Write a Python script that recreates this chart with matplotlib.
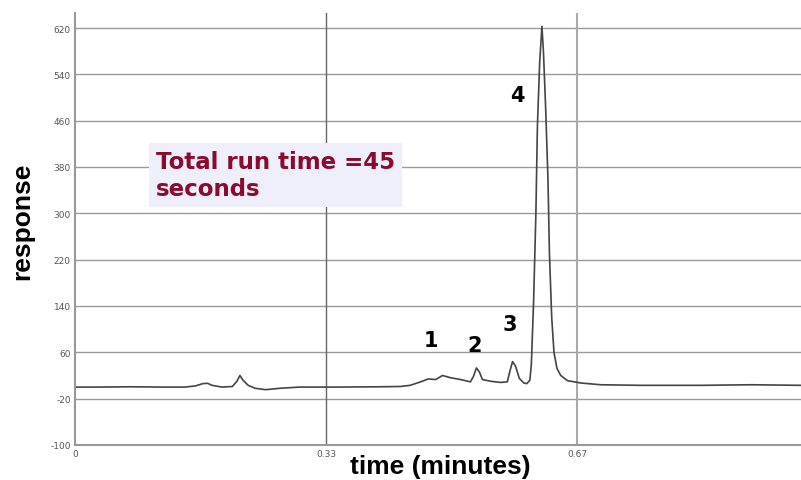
import matplotlib.pyplot as plt

# trace (time in minutes, detector response)
time_min = [0.000, 0.033, 0.073, 0.113, 0.146, 0.160, 0.170, 0.176, 0.182, 0.195,
            0.209, 0.215, 0.219, 0.223, 0.230, 0.239, 0.253, 0.273, 0.299, 0.352,
            0.406, 0.432, 0.445, 0.459, 0.469, 0.479, 0.488, 0.499, 0.512, 0.525,
            0.529, 0.533, 0.537, 0.541, 0.552, 0.565, 0.574, 0.578, 0.581, 0.585,
            0.590, 0.596, 0.600, 0.604, 0.606, 0.609, 0.612, 0.614, 0.617, 0.620,
            0.622, 0.625, 0.628, 0.630, 0.633, 0.636, 0.640, 0.645, 0.654, 0.672,
            0.698, 0.751, 0.831, 0.898, 0.964]
response = [0, 0, 0.5, 0, 0, 2, 6, 6.5, 3, 0,
            1, 10, 20, 12, 3, -2, -4.5, -2, 0, 0,
            0.5, 1, 3, 9, 14, 13, 20, 16, 13, 9,
            18, 33, 26, 13, 10, 8, 9, 30, 44, 36,
            15, 7, 6, 12, 40, 150, 300, 450, 560, 623,
            580, 480, 360, 230, 120, 60, 32, 20, 11, 7,
            4, 3, 3, 4, 3]

peak_labels = ["1", "2", "3", "4"]
peak_x = [0.472, 0.531, 0.577, 0.588]
peak_y = [82, 73, 109, 505]

yticks = [-100, -20, 60, 140, 220, 300, 380, 460, 540, 620]
xticks = [0, 1/3, 2/3]
xtick_labels = ["0", "0.33", "0.67"]

fig = plt.figure(figsize=(8.01, 4.81), dpi=100)
ax = fig.add_axes([0.0936, 0.0728, 0.9064, 0.8982])

ax.plot(time_min, response, color="#444444", lw=1.2)

ax.set_xlim(0, 0.964)
ax.set_ylim(-100, 646)
ax.set_yticks(yticks)
ax.set_yticklabels([str(v) for v in yticks], fontsize=6.5, color="#555555")
ax.set_xticks(xticks)
ax.set_xticklabels(xtick_labels, fontsize=6.5, color="#555555")
ax.tick_params(length=0, pad=3)

for v in yticks[1:]:
    ax.axhline(v, color="#9a9a9a", lw=1.0, zorder=0)
ax.axvline(1/3, color="#666666", lw=1.0, zorder=0)
ax.axvline(2/3, color="#aaaaaa", lw=1.5, zorder=0)

for s in ["top", "right"]:
    ax.spines[s].set_visible(False)
for s in ["left", "bottom"]:
    ax.spines[s].set_color("#999999")
    ax.spines[s].set_linewidth(1.5)

for lab, x, y in zip(peak_labels, peak_x, peak_y):
    ax.text(x, y, lab, fontsize=15, fontweight="bold", family="DejaVu Sans",
            ha="center", va="center", color="black")

ax.text(0.108, 366, "Total run time =45\nseconds", fontsize=16.5, fontweight="bold",
        family="DejaVu Sans", color="#8b0a2e", ha="left", va="center",
        linespacing=1.2,
        bbox=dict(boxstyle="square,pad=0.3", fc="#efeefb", ec="none"))

ax.set_xlabel("time (minutes)", fontsize=19, fontweight="bold",
              family="Liberation Sans", va="top")
ax.xaxis.set_label_coords(0.503, -0.02)
ax.set_ylabel("response", fontsize=19, fontweight="bold",
              family="Liberation Sans", va="center")
ax.yaxis.set_label_coords(-0.073, 0.519)

fig.savefig("out.png", dpi=100)
